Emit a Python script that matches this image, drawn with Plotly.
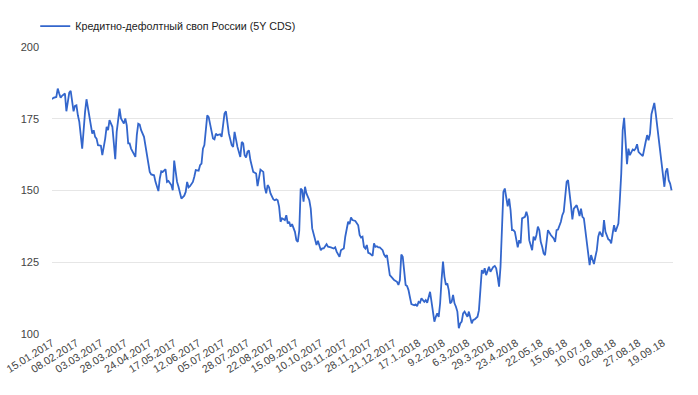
import plotly.graph_objects as go

# trading-day index of each reading and the CDS value (bp)
day = [0, 1, 3, 4, 5, 6, 7, 9, 10, 11, 12, 13, 14, 15, 16, 17, 18, 19, 21, 22, 23, 24, 25, 26, 28, 29, 30, 31, 32, 34,
       35, 37, 38, 39, 40, 42, 43, 44, 45, 46, 47, 48, 50, 51, 52, 53, 54, 55, 57, 58, 59, 60, 61, 62, 64, 65, 66, 68,
       69, 71, 72, 74, 75, 76, 77, 79, 80, 81, 83, 84, 85,
       87, 88, 90, 92, 93, 94, 95, 96, 98, 99, 100, 102, 103, 104, 105, 106, 107, 108, 109, 111, 112, 113, 114, 115,
       117, 118, 119, 120, 121, 122, 123, 125, 126, 127, 128, 129, 131, 132, 133, 134, 135, 136, 137, 138, 140, 141,
       142, 143, 144, 145, 147, 148, 149, 150, 151, 152, 154, 155, 156, 157, 158, 159, 160, 162, 163, 164, 165, 166,
       167, 169, 170, 171, 172,
       173, 174, 175, 176, 177, 179, 180, 181, 182, 183, 184, 185, 187, 188, 189, 191, 192, 194, 196, 197, 198, 200,
       201, 202, 203, 204, 205, 206, 207, 208, 209, 211, 213, 214, 215, 216, 217, 218, 219, 220, 221, 223, 224, 225,
       226, 227, 228, 230, 231, 232, 233, 234, 235, 237, 238, 240, 241, 242, 243, 244, 245, 246, 247, 248, 249, 250,
       252, 253, 254, 255, 256,
       257, 259, 260, 261, 262, 263, 264, 265, 266, 267, 268, 269, 270, 271, 272, 273, 274, 275, 276, 277, 278, 279,
       280, 281, 282, 283, 284, 285, 286, 287, 289, 290, 291, 292, 293, 294, 296, 297, 298, 299, 300, 301, 302, 303,
       304, 305, 306, 307, 308, 309, 310, 311, 312, 313, 314, 315, 316, 317, 318, 319, 320, 321, 322, 323, 324, 325,
       326, 327, 328, 329, 330, 331, 332, 333, 334, 335, 336, 337, 338, 339, 340, 341, 342, 343,
       344, 345, 347, 348, 349, 350, 351, 352, 354, 355, 356, 357, 358, 359, 360, 361, 362, 363, 364, 365, 366, 367,
       368, 369, 370, 371, 372, 373, 374, 375, 376, 377, 378, 379, 380, 381, 383, 384, 385, 386, 387, 388, 389, 390,
       391, 392, 393, 394, 395, 396, 397, 398, 400, 401, 402, 403, 404, 405, 406, 407, 408, 409, 410, 411, 413, 414,
       415, 416, 417, 418, 419, 420, 421, 422, 423, 424, 425, 426, 427, 428, 429, 430, 431]

cds = [181.8, 182.3, 182.6, 185.5, 183.8, 182.3, 183.0, 183.8, 177.6, 180.9, 184.1, 184.7, 180.9, 177.6, 179.5, 179.7,
       176.2, 173.9, 164.6, 171.6, 177.4, 181.8, 178.5, 175.1, 169.8, 171.0, 168.7, 168.1, 165.8, 165.6,
       162.3, 168.1, 172.2, 171.0, 174.5, 172.2, 166.9, 160.9, 170.4, 173.9, 178.5, 175.1, 173.3, 175.1, 172.7, 166.4,
       166.4, 164.6, 162.3, 161.7, 169.3, 173.3, 173.0, 171.0, 168.7, 165.2, 162.9, 156.5,
       155.6, 155.3, 153.0, 149.8, 154.2, 156.7, 156.5, 157.4, 153.0, 153.3, 151.9, 150.1, 160.4,
       153.0, 151.3, 147.2, 148.2, 149.5, 153.0, 151.1, 151.5, 153.0, 154.8, 157.1, 156.9, 158.8, 159.4, 164.6, 165.8,
       171.0, 176.2, 175.6, 171.0, 168.1, 167.8, 169.8, 169.3,
       169.6, 168.7, 173.3, 176.8, 177.6, 172.8, 169.9, 165.8, 165.2, 170.4, 166.9, 165.2, 161.7, 166.9, 166.4, 162.3,
       161.5, 163.5, 164.0, 160.6, 156.5, 156.2,
       155.9, 151.5, 154.8, 157.3, 156.5, 151.1, 149.0, 151.9, 151.1, 149.0, 146.9, 146.6, 146.9, 146.6, 144.3, 139.1,
       140.3, 139.7, 141.4, 138.5, 139.1, 137.4,
       138.3, 135.6, 132.7, 132.1, 136.0,
       150.7, 150.1, 146.1, 151.3, 149.0, 146.6, 143.7, 136.8, 134.5, 132.1, 131.0, 132.5, 129.2, 129.8, 129.8, 131.3,
       130.4, 130.2, 129.8, 130.2, 128.7, 126.9,
       129.2, 129.5, 129.8, 133.9, 136.2, 139.1, 138.3, 140.6, 139.7, 139.4, 137.9, 134.5, 133.6, 133.9, 130.4, 129.8,
       131.0, 128.3, 128.1, 127.2, 131.6, 130.4,
       130.6, 130.2, 130.2, 129.2, 127.7, 126.9, 127.5, 123.4, 120.5, 119.4, 118.8, 118.2, 117.1, 118.8, 127.7, 126.9,
       120.5, 117.1, 116.7, 115.3, 112.8, 110.4,
       110.0, 110.3, 109.7, 111.2, 110.9,
       112.4, 111.2, 111.8, 110.9, 113.0, 114.7, 111.3, 107.8, 104.3, 106.0, 107.2, 106.0, 110.7, 118.8, 125.2, 120.0,
       117.1, 117.6, 115.3, 110.7, 111.2, 113.6,
       110.7, 109.5, 107.8, 102.0, 103.7, 104.3, 107.2, 107.8, 106.0, 107.8, 105.5, 103.7, 104.9, 105.1, 106.0, 108.3,
       115.3, 122.3, 121.1, 122.9, 120.5, 122.3,
       123.4, 121.7, 122.8, 123.4, 123.7, 122.9, 120.0, 116.5, 123.4, 136.2, 149.5, 150.7, 147.8, 144.5, 147.2, 143.2,
       136.2, 136.2, 135.6, 132.1, 130.2, 132.7,
       131.6, 140.3, 140.5, 140.8, 142.6, 140.8, 132.7, 131.0, 129.2, 133.9, 132.7, 134.5, 137.4, 136.2, 132.1, 130.4,
       128.1, 127.5,
       132.1, 136.2, 134.5, 133.9, 133.3, 132.1, 136.2, 136.4, 139.1, 141.4, 142.6, 147.8, 153.0, 153.6, 147.8, 144.9,
       139.9, 143.7, 144.3, 144.9, 143.2, 141.1,
       143.7, 140.8, 140.3, 136.2, 133.0, 126.9, 124.0, 127.5, 125.8, 124.4, 126.9, 129.2, 133.9, 135.6, 133.9, 139.7,
       135.6, 133.9, 133.0, 132.7, 131.6, 135.0,
       137.9, 135.6, 137.4, 138.5, 146.6, 155.9, 171.0, 175.3, 159.2, 164.6, 162.3, 163.5, 164.3, 164.0, 164.6, 166.1,
       163.5, 162.9, 162.5, 162.0, 167.0, 169.3,
       167.5, 169.8, 176.6, 178.5, 180.5, 176.8, 172.7, 168.7, 164.0, 160.0, 156.5, 151.3, 156.5, 157.7, 153.6, 152.4,
       150.1, 144.1]

tick_labels = ["15.01.2017", "08.02.2017", "03.03.2017", "28.03.2017", "24.04.2017", "17.05.2017", "12.06.2017",
               "05.07.2017", "28.07.2017", "22.08.2017", "15.09.2017", "10.10.2017", "03.11.2017", "28.11.2017",
               "21.12.2017", "17.1.2018", "9.2.2018", "6.3.2018", "29.3.2018", "23.4.2018", "22.05.18", "15.06.18",
               "10.07.18", "02.08.18", "27.08.18", "19.09.18"]
tick_step = 17
y_ticks = [100, 125, 150, 175, 200]
series_name = "Кредитно-дефолтный своп России (5Y CDS)"

fig = go.Figure()
fig.add_trace(go.Scatter(
    x=day, y=cds, mode="lines", name=series_name,
    line=dict(color="#3366cc", width=1.8),
    showlegend=True,
))

FONT = "Liberation Sans, Arial, sans-serif"
fig.update_layout(
    width=698, height=395,
    margin=dict(l=52, r=25, t=47, b=61, autoexpand=False),
    paper_bgcolor="white", plot_bgcolor="white",
    font=dict(family=FONT, size=11, color="#444444"),
    showlegend=True,
    legend=dict(
        x=-0.027, y=1.073, xanchor="left", yanchor="middle",
        orientation="h", bgcolor="rgba(0,0,0,0)",
        font=dict(family=FONT, size=10.7, color="#222222"),
    ),
    xaxis=dict(
        range=[0, 432],
        tickmode="array",
        tickvals=[i * tick_step for i in range(len(tick_labels))],
        ticktext=tick_labels,
        tickangle=-32,
        ticklabeloverflow="allow",
        showgrid=False, zeroline=False, showline=False,
        ticks="", tickfont=dict(size=10.7, color="#444444"),
    ),
    yaxis=dict(
        range=[100, 200],
        tickmode="array", tickvals=y_ticks,
        showgrid=True, gridcolor="#e6e6e6", gridwidth=1,
        zeroline=False, showline=False, ticks="",
        tickfont=dict(size=11, color="#444444"),
        ticklabelstandoff=12,
    ),
)

# remove the default 8px page margin so the figure fills the window exactly
fig.write_html("out.html", config={"displayModeBar": False},
               post_script="document.body.style.margin='0';")
